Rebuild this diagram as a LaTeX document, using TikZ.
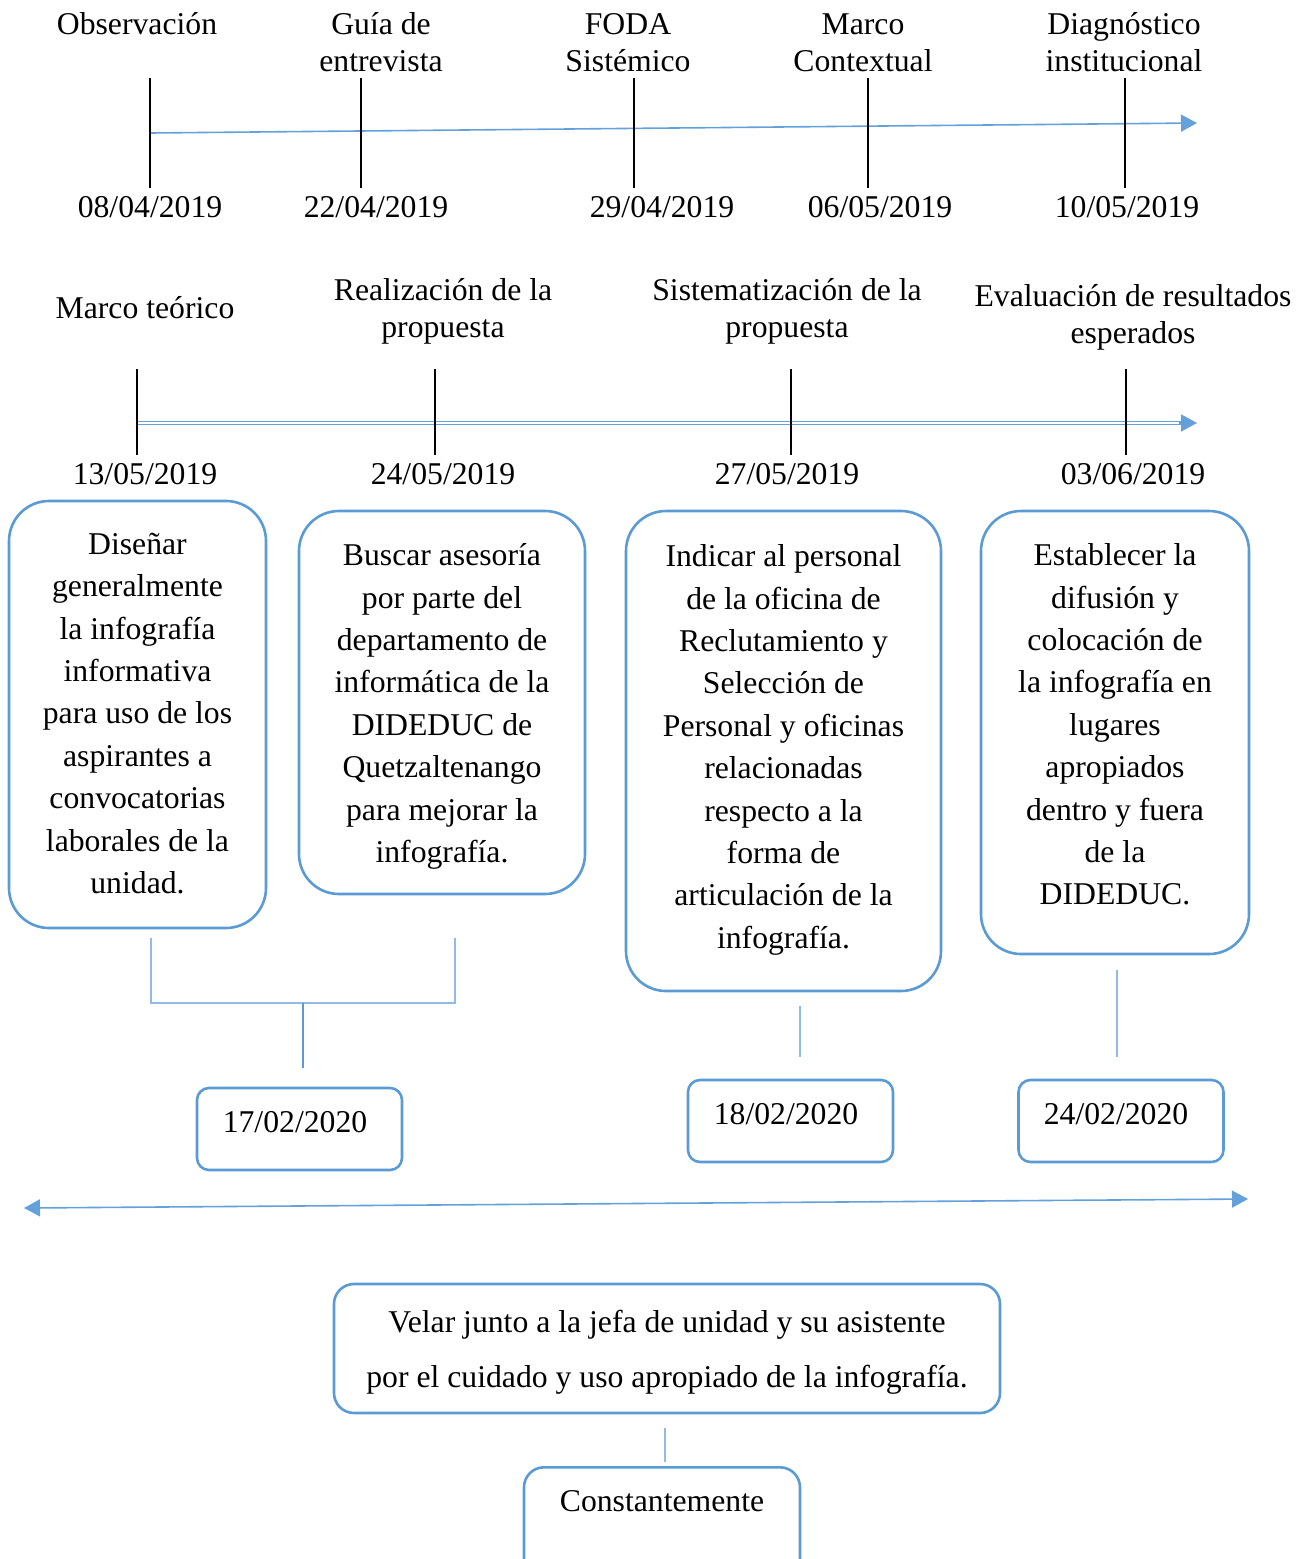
\documentclass[tikz,border=0pt]{standalone}
\usepackage{fontspec}
\setmainfont{Liberation Serif}
\usetikzlibrary{arrows.meta}
\definecolor{bx}{RGB}{91,155,213}
\definecolor{ln}{RGB}{100,160,218}
\definecolor{lt}{RGB}{143,187,228}
\begin{document}
\begin{tikzpicture}[x=0.5pt,y=-0.5pt,
 lab/.style={align=center,font=\fontsize{15.85}{18.5}\selectfont,inner sep=0pt},
 btxt/.style={align=center,font=\fontsize{15.85}{21.2}\selectfont,inner sep=0pt},
 box/.style={draw=bx,line width=1.3pt,rounded corners=20pt,inner sep=0pt},
 dbox/.style={draw=bx,line width=1.3pt,rounded corners=6pt,inner sep=0pt,minimum width=102.5pt,minimum height=41pt},
 tickline/.style={line width=1pt,black},
 tl/.style={draw=ln,line width=0.8pt},
 conn/.style={draw=bx,line width=1pt},
 connl/.style={draw=lt,line width=1pt},
 tip/.style={-{Triangle[length=8pt,width=8.5pt]}}]
\useasboundingbox (0,0) rectangle (1311,1559);
\clip (0,0) rectangle (1311,1559);

% ---------- timeline 1 ----------
\coordinate (t1s) at (150,133);
\coordinate (t1e) at (1197,123);
\draw[tl,tip,fill=ln] (t1s) -- (t1e);
\foreach \x in {150,361,634,868,1125}{\draw[tickline] (\x,78) -- (\x,188);}
\node[lab] (l1) at (137,24) {Observación};
\node[lab] (l2) at (381,42.5) {Guía de\\entrevista};
\node[lab] (l3) at (628,42.5) {FODA\\Sistémico};
\node[lab] (l4) at (863,42.5) {Marco\\Contextual};
\node[lab] (l5) at (1124,42.5) {Diagnóstico\\institucional};
\node[lab] (d1a) at (150,207) {08/04/2019};
\node[lab] (d1b) at (376,207) {22/04/2019};
\node[lab] (d1c) at (662,207) {29/04/2019};
\node[lab] (d1d) at (880,207) {06/05/2019};
\node[lab] (d1e) at (1127,207) {10/05/2019};

% ---------- timeline 2 ----------
\coordinate (t2s) at (137,423);
\coordinate (t2m) at (1183,423);
\coordinate (t2e) at (1197,423);
\draw[draw=ln,line width=0.6pt,double=white,double distance=1pt] (t2s) -- (t2m);
\draw[tl,tip,fill=ln] ([xshift=-2pt]t2m) -- (t2e);
\foreach \x in {137,435,791,1126}{\draw[tickline] (\x,369) -- (\x,455);}
\node[lab] (m1) at (145,308) {Marco teórico};
\node[lab] (m2) at (443,311.5) {Realización de la\\propuesta};
\node[lab] (m3) at (787,311.5) {Sistematización de la\\propuesta};
\node[lab] (m4) at (1133,317.5) {Evaluación de resultados\\esperados};
\node[lab] (e1) at (145,474) {13/05/2019};
\node[lab] (e2) at (443,474) {24/05/2019};
\node[lab] (e3) at (787,474) {27/05/2019};
\node[lab] (e4) at (1133,474) {03/06/2019};

% ---------- activity boxes ----------
\node[box,minimum width=128.5pt,minimum height=213.5pt] (b1) at (137.5,714.5) {};
\node[btxt] (b1t) at (137.5,713.5)
 {Diseñar\\generalmente\\la infografía\\informativa\\para uso de los\\aspirantes a\\convocatorias\\laborales de la\\unidad.};
\node[box,minimum width=143pt,minimum height=191.5pt] (b2) at (442,702.5) {};
\node[btxt] (b2t) at (442,706.5)
 {Buscar asesoría\\por parte del\\departamento de\\informática de la\\DIDEDUC de\\Quetzaltenango\\para mejorar la\\infografía.};
\node[box,minimum width=157.5pt,minimum height=240pt] (b3) at (783.5,751) {};
\node[btxt] (b3t) at (783.5,750)
 {Indicar al personal\\de la oficina de\\Reclutamiento y\\Selección de\\Personal y oficinas\\relacionadas\\respecto a la\\forma de\\articulación de la\\infografía.};
\node[box,minimum width=134pt,minimum height=221.5pt] (b4) at (1115,732.5) {};
\node[btxt] (b4t) at (1115,724.5)
 {Establecer la\\difusión y\\colocación de\\la infografía en\\lugares\\apropiados\\dentro y fuera\\de la\\DIDEDUC.};

% ---------- date boxes ----------
\node[dbox] (f1) at (299.5,1129) {};
\node[lab] (f1t) at (295,1122) {17/02/2020};
\node[dbox] (f2) at (790.5,1121) {};
\node[lab] (f2t) at (786,1114) {18/02/2020};
\node[dbox] (f3) at (1121,1121) {};
\node[lab] (f3t) at (1116,1114) {24/02/2020};

% ---------- connectors ----------
\coordinate (k1) at (151,938);
\coordinate (k2) at (455,938);
\coordinate (kj) at (303,1003);
\coordinate (kb) at (303,1068);
\draw[connl] (k1) |- (kj) -| (k2);
\draw[conn] (kj) -- (kb);
\coordinate (k3a) at (800,1006);
\coordinate (k3b) at (800,1057);
\draw[connl] (k3a) -- (k3b);
\coordinate (k4a) at (1117,970);
\coordinate (k4b) at (1117,1057);
\draw[connl] (k4a) -- (k4b);

% ---------- long double arrow ----------
\coordinate (ls) at (24,1208);
\coordinate (le) at (1248,1199);
\draw[tl,fill=ln,{Triangle[length=8pt,width=8.5pt]}-{Triangle[length=8pt,width=8.5pt]}] (ls) -- (le);

% ---------- bottom ----------
\node[box,rounded corners=10pt,minimum width=333pt,minimum height=64.5pt] (v) at (667,1348.5) {};
\node[lab,font=\fontsize{15.85}{27.5}\selectfont] (vt) at (667,1352)
 {Velar junto a la jefa de unidad y su asistente\\por el cuidado y uso apropiado de la infografía.};
\node[draw=bx,line width=1.3pt,rounded corners=10pt,anchor=north,minimum width=138pt,inner xsep=0pt,inner ysep=11.75pt,text depth=50pt,font=\fontsize{15.85}{18.5}\selectfont] (c) at (662,1466) {Constantemente};
\coordinate (k5a) at (665,1428);
\coordinate (k5b) at (665,1462);
\draw[connl] (k5a) -- (k5b);
\end{tikzpicture}
\end{document}
